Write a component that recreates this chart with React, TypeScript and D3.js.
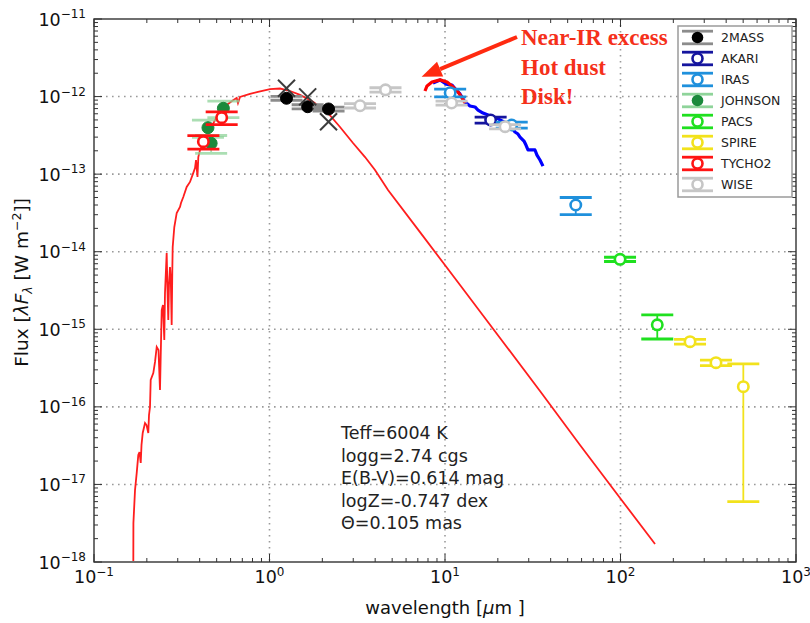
import * as d3 from "d3";

const W = 810;
const H = 623;
const box = { left: 94, right: 796, top: 19, bottom: 562 };

// model SED: [wavelength (um), lambda F_lambda (W m^-2)]
const modelSed: [number, number][] = [
  [0.1675, 1.03e-18], [0.1677, 3.18e-18], [0.1713, 8.48e-18], [0.1751, 1.4e-17],
  [0.1788, 2.39e-17], [0.1817, 2.62e-17], [0.1846, 1.89e-17], [0.1865, 3.22e-17],
  [0.1895, 4.6e-17], [0.1953, 6.19e-17], [0.1992, 5.83e-17], [0.2039, 4.6e-17],
  [0.2058, 7.85e-17], [0.2085, 9.95e-17], [0.2104, 2.22e-16], [0.2177, 2.73e-16],
  [0.2227, 3.79e-16], [0.2277, 5.91e-16], [0.2331, 5.41e-16], [0.2377, 1.65e-16],
  [0.2399, 4.4e-16], [0.2431, 1.77e-15], [0.2472, 2.06e-15], [0.2515, 7.28e-16],
  [0.2538, 2.94e-15], [0.2595, 9.62e-15], [0.2622, 3.21e-15], [0.265, 1.32e-15],
  [0.2675, 3.72e-15], [0.271, 6.35e-15], [0.2739, 4.32e-15], [0.2771, 1.14e-15],
  [0.2794, 5.81e-15], [0.2808, 1.15e-14], [0.2868, 2.08e-14], [0.296, 3.16e-14],
  [0.309, 3.77e-14], [0.3131, 4.25e-14], [0.3227, 5.07e-14], [0.3374, 6.83e-14],
  [0.3524, 7.93e-14], [0.368, 1.04e-13], [0.3763, 1.2e-13], [0.3813, 1.52e-13],
  [0.3888, 9.18e-14], [0.393, 1.66e-13], [0.4018, 2.05e-13], [0.4291, 2.75e-13],
  [0.4581, 3.71e-13], [0.4892, 4.99e-13], [0.5224, 6.14e-13], [0.5703, 7.79e-13],
  [0.6113, 8.77e-13], [0.6502, 9.59e-13], [0.6614, 8.26e-13], [0.679, 9.87e-13],
  [0.7743, 1.08e-12], [0.86, 1.15e-12], [1.007, 1.25e-12], [1.148, 1.27e-12],
  [1.309, 1.18e-12], [1.492, 1.05e-12], [1.77, 8.59e-13], [2.127, 6.33e-13],
  [2.522, 4.05e-13], [2.991, 2.52e-13], [3.502, 1.66e-13], [3.991, 1.13e-13],
  [4.734, 6.25e-14], [7.203, 1.79e-14], [12.18, 3.72e-15], [20.58, 7.73e-16],
  [34.77, 1.6e-16], [58.77, 3.22e-17], [99.4, 6.68e-18], [157.3, 1.71e-18],
];

// mid-IR spectrum (blue) and its red excess part
const irsSpectrum: [number, number][] = [
  [8.54, 1.5e-12], [9.37, 1.64e-12], [10.13, 1.45e-12], [10.96, 1.41e-12],
  [11.55, 1.22e-12], [12.18, 1.08e-12], [13.0, 8.51e-13], [13.88, 7.56e-13],
  [14.82, 7.34e-13], [15.42, 6.71e-13], [16.47, 6.14e-13], [17.58, 5.79e-13],
  [18.53, 5.45e-13], [19.79, 5.29e-13], [20.58, 4.99e-13], [21.69, 4.7e-13],
  [22.86, 4.3e-13], [24.09, 3.93e-13], [25.06, 3.49e-13], [26.06, 3.29e-13],
  [26.76, 3.01e-13], [28.19, 2.67e-13], [28.93, 2.37e-13], [29.71, 2.05e-13],
  [30.9, 2.05e-13], [32.56, 2.05e-13], [33.43, 1.76e-13], [34.77, 1.52e-13],
  [36.17, 1.27e-13],
];
const irsExcess: [number, number][] = [
  [7.69, 1.18e-12], [7.9, 1.37e-12], [8.43, 1.54e-12], [9.37, 1.64e-12],
  [10.27, 1.54e-12], [10.96, 1.37e-12], [11.86, 1.15e-12], [12.5, 9.59e-13],
  [13.0, 8.26e-13],
];

// photometry: [wavelength, flux, flux error]
const twoMass = [[1.25, 9.51e-13, 0.55e-13], [1.65, 7.4e-13, 0.45e-13], [2.17, 6.92e-13, 0.4e-13]];
const akari = [[18.2, 4.99e-13, 0.45e-13]];
const iras = [[10.7, 1.12e-12, 0.13e-12], [24.0, 4.3e-13, 0.38e-13], [55.6, 4.0e-14, 1.0e-14]];
const johnson = [[0.446, 3.97e-13, 1.0e-13], [0.465, 2.5e-13, 0.65e-13], [0.546, 7.06e-13, 1.7e-13]];
const pacs = [[99.4, 7.98e-15, 0.5e-15], [162, 1.14e-15, 0.39e-15]];
const spire = [[249, 6.92e-16, 0.48e-16], [350, 3.71e-16, 0.3e-16], [501, 1.82e-16, 1.76e-16]];
const tycho2 = [[0.42, 2.62e-13, 0.52e-13], [0.534, 5.35e-13, 1.0e-13]];
const wise = [[3.28, 7.62e-13, 0.5e-13], [4.58, 1.22e-12, 0.8e-13], [10.9, 8.26e-13, 0.5e-13], [22.0, 4.09e-13, 0.25e-13]];

// synthetic model photometry (x markers)
const synthetic = [[1.25, 1.28e-12], [1.65, 9.9e-13], [2.17, 4.74e-13]];

const fitParams = ["Teff=6004 K", "logg=2.74 cgs", "E(B-V)=0.614 mag", "logZ=-0.747 dex", "\u0398=0.105 mas"];
const noteLines = ["Near-IR excess", "Hot dust", "Disk!"];

const series = [
  { name: "2MASS", data: twoMass, color: "#000000", cap: "#8c8c8c", filled: true },
  { name: "AKARI", data: akari, color: "#15159e", cap: "#15159e", filled: false },
  { name: "IRAS", data: iras, color: "#1f90dc", cap: "#1f90dc", filled: false },
  { name: "JOHNSON", data: johnson, color: "#1b8a3c", cap: "#8fd49a", filled: true },
  { name: "PACS", data: pacs, color: "#1fe01f", cap: "#1fe01f", filled: false },
  { name: "SPIRE", data: spire, color: "#f2e21c", cap: "#f2e21c", filled: false },
  { name: "TYCHO2", data: tycho2, color: "#ff1414", cap: "#ff1414", filled: false },
  { name: "WISE", data: wise, color: "#c6c6c6", cap: "#c6c6c6", filled: false },
];

const FONT = "DejaVu Sans, sans-serif";

export default function App() {
  const x = d3.scaleLog().domain([0.1, 1000]).range([box.left, box.right]);
  const y = d3.scaleLog().domain([1e-18, 1e-11]).range([box.bottom, box.top]);

  const line = d3.line<[number, number]>().x(d => x(d[0])).y(d => y(d[1]));

  const isMajor = (v: number) => Math.abs(Math.log10(v) - Math.round(Math.log10(v))) < 1e-6;
  const xTicks = x.ticks();
  const yTicks = y.ticks();
  const xMajor = xTicks.filter(isMajor);
  const yMajor = yTicks.filter(isMajor);
  const expo = (v: number) => String(Math.round(Math.log10(v))).replace("-", "\u2212");

  const capHalf = 16;
  const arrowTip: [number, number] = [x(7.36), y(1.8e-12)];
  const arrowStart: [number, number] = [517, 37];
  const ang = Math.atan2(arrowTip[1] - arrowStart[1], arrowTip[0] - arrowStart[0]);
  const headLen = 20;
  const headW = 8;
  const bx = arrowTip[0] - headLen * Math.cos(ang);
  const by = arrowTip[1] - headLen * Math.sin(ang);
  const head = [
    arrowTip,
    [bx + headW * Math.sin(ang), by - headW * Math.cos(ang)],
    [bx - headW * Math.sin(ang), by + headW * Math.cos(ang)],
  ];

  return (
    <svg width={W} height={H} style={{ position: "absolute", left: 0, top: 0, background: "#fff" }} fontFamily={FONT}>
      <defs>
        <clipPath id="plot">
          <rect x={box.left} y={box.top} width={box.right - box.left} height={box.bottom - box.top} />
        </clipPath>
      </defs>

      {/* grid */}
      <g stroke="#9a9a9a" strokeWidth={1.6} strokeDasharray="1.6,4.4">
        {xMajor.slice(1, -1).map(v => (
          <line key={"gx" + v} x1={x(v)} x2={x(v)} y1={box.top} y2={box.bottom} />
        ))}
        {yMajor.slice(1, -1).map(v => (
          <line key={"gy" + v} y1={y(v)} y2={y(v)} x1={box.left} x2={box.right} />
        ))}
      </g>

      <g clipPath="url(#plot)">
        <path d={line(modelSed) || ""} fill="none" stroke="#ff1e1e" strokeWidth={1.8} />
        <path d={line(irsSpectrum) || ""} fill="none" stroke="#0000ff" strokeWidth={3.2} strokeLinejoin="round" />
        <path d={line(irsExcess) || ""} fill="none" stroke="#ff0000" strokeWidth={3.2} strokeLinejoin="round" />

        {series.map(s => (
          <g key={s.name}>
            {s.data.map((d, i) => {
              const cx = x(d[0]);
              const cy = y(d[1]);
              const yt = y(d[1] + d[2]);
              const yb = y(Math.max(d[1] - d[2], 1e-19));
              return (
                <g key={i}>
                  <g stroke={s.cap} opacity={s.name === "JOHNSON" ? 0.75 : 1}>
                    <line x1={cx} x2={cx} y1={yt} y2={yb} strokeWidth={1.8} />
                    <line x1={cx - capHalf} x2={cx + capHalf} y1={yt} y2={yt} strokeWidth={2.8} />
                    <line x1={cx - capHalf} x2={cx + capHalf} y1={yb} y2={yb} strokeWidth={2.8} />
                  </g>
                  {s.filled ? (
                    <circle cx={cx} cy={cy} r={6} fill={s.color} stroke={s.color} strokeWidth={1} />
                  ) : (
                    <circle cx={cx} cy={cy} r={5.2} fill="#fff" stroke={s.color} strokeWidth={2.6} />
                  )}
                </g>
              );
            })}
          </g>
        ))}

        {synthetic.map((d, i) => {
          const cx = x(d[0]);
          const cy = y(d[1]);
          const k = 8.5;
          return (
            <g key={"syn" + i} stroke="#3c3c3c" strokeWidth={2}>
              <line x1={cx - k} x2={cx + k} y1={cy - k} y2={cy + k} />
              <line x1={cx - k} x2={cx + k} y1={cy + k} y2={cy - k} />
            </g>
          );
        })}
      </g>

      {/* ticks */}
      <g stroke="#333" strokeWidth={1}>
        {xTicks.map(v => {
          const len = isMajor(v) ? 8 : 4;
          const px = x(v);
          return (
            <g key={"tx" + v}>
              <line x1={px} x2={px} y1={box.bottom} y2={box.bottom - len} />
              <line x1={px} x2={px} y1={box.top} y2={box.top + len} />
            </g>
          );
        })}
        {yTicks.map(v => {
          const len = isMajor(v) ? 8 : 4;
          const py = y(v);
          return (
            <g key={"ty" + v}>
              <line y1={py} y2={py} x1={box.left} x2={box.left + len} />
              <line y1={py} y2={py} x1={box.right} x2={box.right - len} />
            </g>
          );
        })}
      </g>

      <rect x={box.left} y={box.top} width={box.right - box.left} height={box.bottom - box.top}
        fill="none" stroke="#333" strokeWidth={1.4} />

      {/* tick labels */}
      <g fontSize={17.5} fill="#111">
        {xMajor.map(v => (
          <text key={"lx" + v} x={x(v)} y={box.bottom + 21} textAnchor="middle">
            10<tspan fontSize={12} dy={-7.5}>{expo(v)}</tspan>
          </text>
        ))}
        {yMajor.map(v => (
          <text key={"ly" + v} x={86} y={y(v) + 6.5} textAnchor="end">
            10<tspan fontSize={12} dy={-7.5}>{expo(v)}</tspan>
          </text>
        ))}
      </g>

      {/* axis labels */}
      <text x={445} y={614} textAnchor="middle" fontSize={18} fill="#111">
        wavelength [<tspan fontStyle="italic">{"\u03bc"}</tspan>m ]
      </text>
      <text transform={`translate(28,${(box.top + box.bottom) / 2 - 8}) rotate(-90)`} textAnchor="middle" fontSize={18.5} fill="#111">
        Flux [<tspan fontStyle="italic">{"\u03bbF"}</tspan>
        <tspan fontStyle="italic" fontSize={12.5} dy={4}>{"\u03bb"}</tspan>
        <tspan dy={-4}> [W  m</tspan>
        <tspan fontSize={12.5} dy={-7.5}>{"\u22122"}</tspan>
        <tspan dy={7.5}>]]</tspan>
      </text>

      {/* fit parameters */}
      <g fontSize={17.5} fill="#222">
        {fitParams.map((t, i) => (
          <text key={t} x={341} y={439 + i * 22.5}>{t}</text>
        ))}
      </g>

      {/* annotation */}
      <line x1={arrowStart[0]} y1={arrowStart[1]} x2={bx} y2={by} stroke="#ff2a10" strokeWidth={4} />
      <polygon points={head.map(p => p.join(",")).join(" ")} fill="#ff2a10" />
      <g fontFamily="Liberation Serif, serif" fontWeight="bold" fontSize={23} fill="#f5301a">
        {noteLines.map((t, i) => (
          <text key={t} x={521} y={45 + i * 29.5}>{t}</text>
        ))}
      </g>

      {/* legend */}
      <g>
        <rect x={678} y={26} width={114} height={171} fill="#fff" stroke="#9a9a9a" strokeWidth={1.5} />
        {series.map((s, i) => {
          const yc = 37.5 + i * 21;
          const cx = 697.5;
          return (
            <g key={"lg" + s.name}>
              <g stroke={s.cap}>
                <line x1={cx} x2={cx} y1={yc - 6.3} y2={yc + 6.3} strokeWidth={1.8} />
                <line x1={cx - 15.5} x2={cx + 15.5} y1={yc - 6.3} y2={yc - 6.3} strokeWidth={2.8} />
                <line x1={cx - 15.5} x2={cx + 15.5} y1={yc + 6.3} y2={yc + 6.3} strokeWidth={2.8} />
              </g>
              {s.filled ? (
                <circle cx={cx} cy={yc} r={5.8} fill={s.color} />
              ) : (
                <circle cx={cx} cy={yc} r={5} fill="#fff" stroke={s.color} strokeWidth={2.6} />
              )}
              <text x={721} y={yc + 4.5} fontSize={12.5} fill="#222">{s.name}</text>
            </g>
          );
        })}
      </g>
    </svg>
  );
}
